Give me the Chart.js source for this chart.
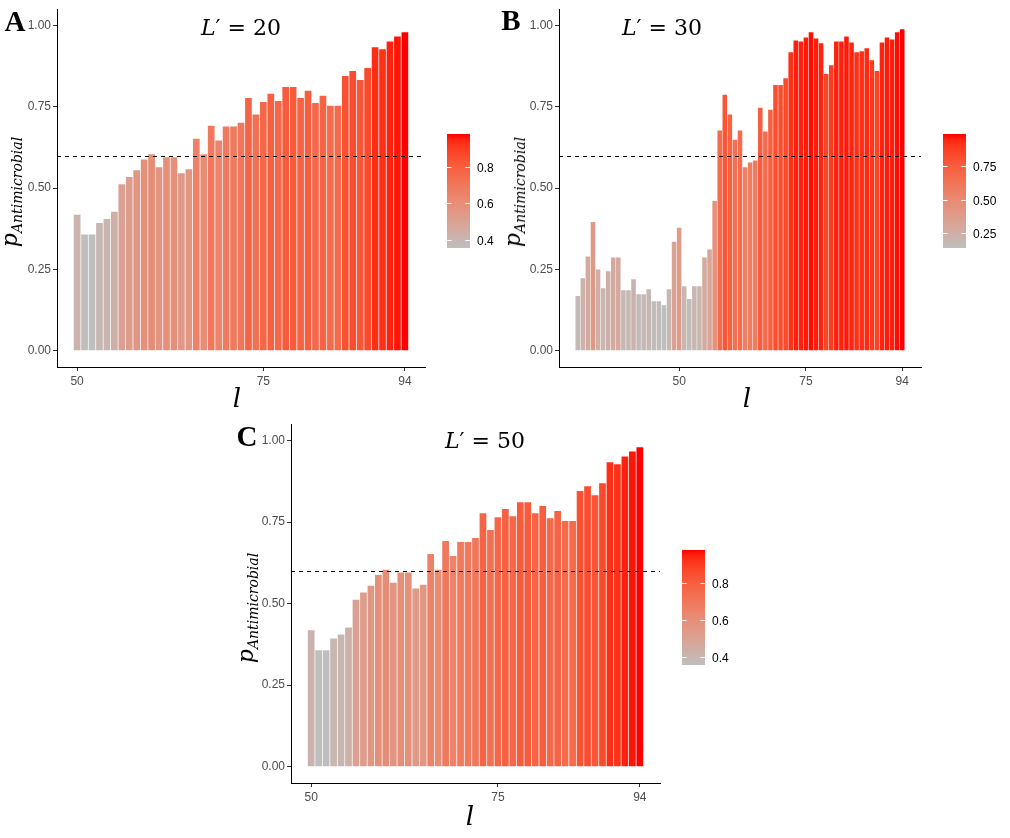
<!DOCTYPE html>
<html>
<head>
<meta charset="utf-8">
<script src="https://cdn.jsdelivr.net/npm/chart.js@4.4.1/dist/chart.umd.min.js"></script>
<style>
  html, body { margin: 0; padding: 0; background: #fff; }
  #wrap { position: relative; width: 1010px; height: 838px; overflow: hidden; }
  canvas { position: absolute; }
  .lbl { position: absolute; white-space: nowrap; transform: translate(-50%, -50%); color: #000; }
  .panel { font-family: 'Liberation Serif', 'Times New Roman', serif; font-weight: bold; font-size: 29px; }
  .ttl { font-family: 'DejaVu Serif', serif; font-size: 22px; }
  .xt { font-family: 'DejaVu Serif', serif; font-style: italic; font-size: 26px; }
  .yt { font-family: 'DejaVu Serif', serif; font-style: italic; font-size: 22px; transform: translate(-50%, -50%) rotate(-90deg); }
  .yt sub { font-size: 14px; vertical-align: -5px; }
</style>
</head>
<body>
<div id="wrap">
  <canvas id="chartA" width="505" height="415" style="left:0;top:0"></canvas>
  <canvas id="chartB" width="510" height="415" style="left:500px;top:0"></canvas>
  <canvas id="chartC" width="520" height="423" style="left:230px;top:415px"></canvas>

  <div class="lbl panel" style="left:15px;top:21px">A</div>
  <div class="lbl panel" style="left:511px;top:20px">B</div>
  <div class="lbl panel" style="left:247px;top:436px">C</div>

  <div class="lbl ttl" style="left:241px;top:27px"><i>L</i>′ = 20</div>
  <div class="lbl ttl" style="left:662px;top:27px"><i>L</i>′ = 30</div>
  <div class="lbl ttl" style="left:485px;top:440px"><i>L</i>′ = 50</div>

  <div class="lbl yt" style="left:11px;top:192px">p<sub>Antimicrobial</sub></div>
  <div class="lbl yt" style="left:514px;top:192px">p<sub>Antimicrobial</sub></div>
  <div class="lbl yt" style="left:247px;top:608px">p<sub>Antimicrobial</sub></div>

  <div class="lbl xt" style="left:237px;top:398px">l</div>
  <div class="lbl xt" style="left:747px;top:398px">l</div>
  <div class="lbl xt" style="left:470px;top:816px">l</div>
</div>

<script>
// ---- data ----
const lA = [50, 51, 52, 53, 54, 55, 56, 57, 58, 59, 60, 61, 62, 63, 64, 65, 66, 67, 68, 69, 70, 71, 72,
  73, 74, 75, 76, 77, 78, 79, 80, 81, 82, 83, 84, 85, 86, 87, 88, 89, 90, 91, 92, 93, 94];
const pA = [0.418, 0.357, 0.357, 0.393, 0.405, 0.427, 0.512, 0.534, 0.555, 0.588, 0.604, 0.564, 0.595,
  0.595, 0.546, 0.558, 0.652, 0.604, 0.692, 0.646, 0.689, 0.689, 0.701, 0.777, 0.726, 0.765, 0.790,
  0.768, 0.811, 0.811, 0.777, 0.799, 0.762, 0.784, 0.753, 0.753, 0.845, 0.860, 0.832, 0.869, 0.933,
  0.927, 0.951, 0.966, 0.979];

const lB = [30, 31, 32, 33, 34, 35, 36, 37, 38, 39, 40, 41, 42, 43, 44, 45, 46, 47, 48, 49, 50, 51, 52,
  53, 54, 55, 56, 57, 58, 59, 60, 61, 62, 63, 64, 65, 66, 67, 68, 69, 70, 71, 72, 73, 74, 75, 76, 77,
  78, 79, 80, 81, 82, 83, 84, 85, 86, 87, 88, 89, 90, 91, 92, 93, 94];
const pB = [0.168, 0.223, 0.290, 0.396, 0.250, 0.192, 0.244, 0.287, 0.287, 0.186, 0.186, 0.220, 0.174,
  0.174, 0.189, 0.152, 0.152, 0.140, 0.189, 0.335, 0.378, 0.198, 0.159, 0.198, 0.198, 0.287, 0.311,
  0.460, 0.677, 0.787, 0.726, 0.649, 0.677, 0.564, 0.579, 0.585, 0.747, 0.674, 0.741, 0.817, 0.817,
  0.838, 0.918, 0.954, 0.951, 0.963, 0.979, 0.960, 0.945, 0.851, 0.878, 0.951, 0.951, 0.966, 0.948,
  0.918, 0.921, 0.930, 0.893, 0.860, 0.948, 0.963, 0.957, 0.979, 0.988];

const lC = [50, 51, 52, 53, 54, 55, 56, 57, 58, 59, 60, 61, 62, 63, 64, 65, 66, 67, 68, 69, 70, 71, 72,
  73, 74, 75, 76, 77, 78, 79, 80, 81, 82, 83, 84, 85, 86, 87, 88, 89, 90, 91, 92, 93, 94];
const pC = [0.418, 0.357, 0.357, 0.393, 0.405, 0.427, 0.512, 0.534, 0.555, 0.588, 0.604, 0.564, 0.595,
  0.595, 0.546, 0.558, 0.652, 0.604, 0.692, 0.646, 0.689, 0.689, 0.701, 0.777, 0.726, 0.765, 0.790,
  0.768, 0.811, 0.811, 0.777, 0.799, 0.762, 0.784, 0.753, 0.753, 0.845, 0.860, 0.832, 0.869, 0.933,
  0.927, 0.951, 0.966, 0.979];

const xTicks = [50, 75, 94];
const yTicks = [0, 0.25, 0.5, 0.75, 1];
const cbTicksA = [0.4, 0.6, 0.8];
const cbTicksB = [0.25, 0.5, 0.75];
const cbTicksC = [0.4, 0.6, 0.8];
const threshold = 0.6;

// ---- colour scale (grey -> red, interpolated in CIELAB like ggplot) ----
const LOW = [190, 190, 190];
const HIGH = [255, 0, 0];

function toLin(c) { c /= 255; return c <= 0.04045 ? c / 12.92 : Math.pow((c + 0.055) / 1.055, 2.4); }
function fromLin(c) { c = c <= 0.0031308 ? 12.92 * c : 1.055 * Math.pow(c, 1 / 2.4) - 0.055; return Math.max(0, Math.min(255, Math.round(c * 255))); }
function rgbToLab(rgb) {
  const r = toLin(rgb[0]), g = toLin(rgb[1]), b = toLin(rgb[2]);
  const X = (0.4124 * r + 0.3576 * g + 0.1805 * b) / 0.95047;
  const Y = 0.2126 * r + 0.7152 * g + 0.0722 * b;
  const Z = (0.0193 * r + 0.1192 * g + 0.9505 * b) / 1.08883;
  const f = t => t > 0.008856 ? Math.cbrt(t) : 7.787 * t + 16 / 116;
  return [116 * f(Y) - 16, 500 * (f(X) - f(Y)), 200 * (f(Y) - f(Z))];
}
function labToRgb(lab) {
  const fy = (lab[0] + 16) / 116, fx = fy + lab[1] / 500, fz = fy - lab[2] / 200;
  const fi = t => t * t * t > 0.008856 ? t * t * t : (t - 16 / 116) / 7.787;
  const X = fi(fx) * 0.95047, Y = fi(fy), Z = fi(fz) * 1.08883;
  const r = 3.2406 * X - 1.5372 * Y - 0.4986 * Z;
  const g = -0.9689 * X + 1.8758 * Y + 0.0415 * Z;
  const b = 0.0557 * X - 0.2040 * Y + 1.0570 * Z;
  return [fromLin(r), fromLin(g), fromLin(b)];
}
const LAB_LO = rgbToLab(LOW), LAB_HI = rgbToLab(HIGH);
function ramp(t) {
  t = Math.max(0, Math.min(1, t));
  const c = labToRgb(LAB_LO.map((v, i) => v + (LAB_HI[i] - v) * t));
  return `rgb(${c[0]},${c[1]},${c[2]})`;
}

// ---- plugins ----
const hlinePlugin = {
  id: 'hline',
  afterDatasetsDraw(chart, args, opts) {
    const { ctx, chartArea, scales } = chart;
    const y = Math.round(scales.y.getPixelForValue(opts.value)) + 0.5;
    ctx.save();
    ctx.strokeStyle = '#000';
    ctx.lineWidth = 1;
    ctx.setLineDash([4, 4]);
    ctx.beginPath();
    ctx.moveTo(chartArea.left, y);
    ctx.lineTo(chartArea.right, y);
    ctx.stroke();
    ctx.restore();
  }
};

const colorbarPlugin = {
  id: 'colorbar',
  afterDraw(chart, args, o) {
    const ctx = chart.ctx;
    ctx.save();
    const grad = ctx.createLinearGradient(0, o.y + o.h, 0, o.y);
    for (let i = 0; i <= 20; i++) grad.addColorStop(i / 20, ramp(i / 20));
    ctx.fillStyle = grad;
    ctx.fillRect(o.x, o.y, o.w, o.h);
    ctx.strokeStyle = '#fff';
    ctx.lineWidth = 1;
    ctx.fillStyle = '#000';
    ctx.font = '12px "Liberation Sans", Arial, sans-serif';
    ctx.textBaseline = 'middle';
    o.ticks.forEach(v => {
      const py = Math.round(o.y + o.h - (v - o.min) / (o.max - o.min) * o.h) + 0.5;
      ctx.beginPath();
      ctx.moveTo(o.x, py); ctx.lineTo(o.x + 4.6, py);
      ctx.moveTo(o.x + o.w - 4.6, py); ctx.lineTo(o.x + o.w, py);
      ctx.stroke();
      ctx.fillText(v.toFixed(o.digits), o.x + o.w + 7, py + 1);
    });
    ctx.restore();
  }
};

// ---- chart builder ----
function makePanel(id, ls, ps, cfg) {
  const lo = Math.min(...ps), hi = Math.max(...ps);
  const colors = ps.map(v => ramp((v - lo) / (hi - lo)));
  const tickFont = { family: "'Liberation Sans', Arial, sans-serif", size: 12 };
  return new Chart(document.getElementById(id), {
    type: 'bar',
    data: {
      datasets: [{
        data: ls.map((l, i) => ({ x: l, y: ps[i] })),
        backgroundColor: colors,
        borderWidth: 0,
        barPercentage: 0.9,
        categoryPercentage: 1
      }]
    },
    options: {
      responsive: false,
      devicePixelRatio: 1,
      animation: false,
      layout: { padding: { top: cfg.top, right: cfg.right, left: 0, bottom: 0 } },
      plugins: {
        legend: { display: false },
        tooltip: { enabled: false },
        hline: { value: threshold },
        colorbar: { ...cfg.cb, min: lo, max: hi }
      },
      scales: {
        x: {
          type: 'linear',
          min: cfg.xmin,
          max: cfg.xmax,
          offset: false,
          afterBuildTicks: s => { s.ticks = xTicks.map(v => ({ value: v })); },
          afterFit: s => { s.height = cfg.xh; },
          ticks: { color: '#4d4d4d', font: tickFont, padding: 3, maxRotation: 0, autoSkip: false },
          grid: { offset: false, drawOnChartArea: false, tickLength: 4, tickColor: '#333', lineWidth: 1 },
          border: { display: true, color: '#000', width: 1 }
        },
        y: {
          min: -0.05,
          max: 1.05,
          afterBuildTicks: s => { s.ticks = yTicks.map(v => ({ value: v })); },
          afterFit: s => { s.width = cfg.yw; },
          ticks: { color: '#4d4d4d', font: tickFont, padding: 2, callback: v => v.toFixed(2) },
          grid: { drawOnChartArea: false, tickLength: 4, tickColor: '#333', lineWidth: 1 },
          border: { display: true, color: '#000', width: 1 }
        }
      }
    },
    plugins: [hlinePlugin, colorbarPlugin]
  });
}

makePanel('chartA', lA, pA, {
  xmin: 47.3, xmax: 96.7, yw: 57, xh: 48, top: 8, right: 80,
  cb: { x: 447, y: 134, w: 23, h: 114, ticks: cbTicksA, digits: 1 }
});
makePanel('chartB', lB, pB, {
  xmin: 26.3, xmax: 97.7, yw: 59, xh: 48, top: 8, right: 89,
  cb: { x: 443, y: 134, w: 23, h: 114, ticks: cbTicksB, digits: 2 }
});
makePanel('chartC', lC, pC, {
  xmin: 47.3, xmax: 96.7, yw: 61, xh: 55, top: 8, right: 90,
  cb: { x: 452, y: 135, w: 23, h: 115, ticks: cbTicksC, digits: 1 }
});
</script>
</body>
</html>
